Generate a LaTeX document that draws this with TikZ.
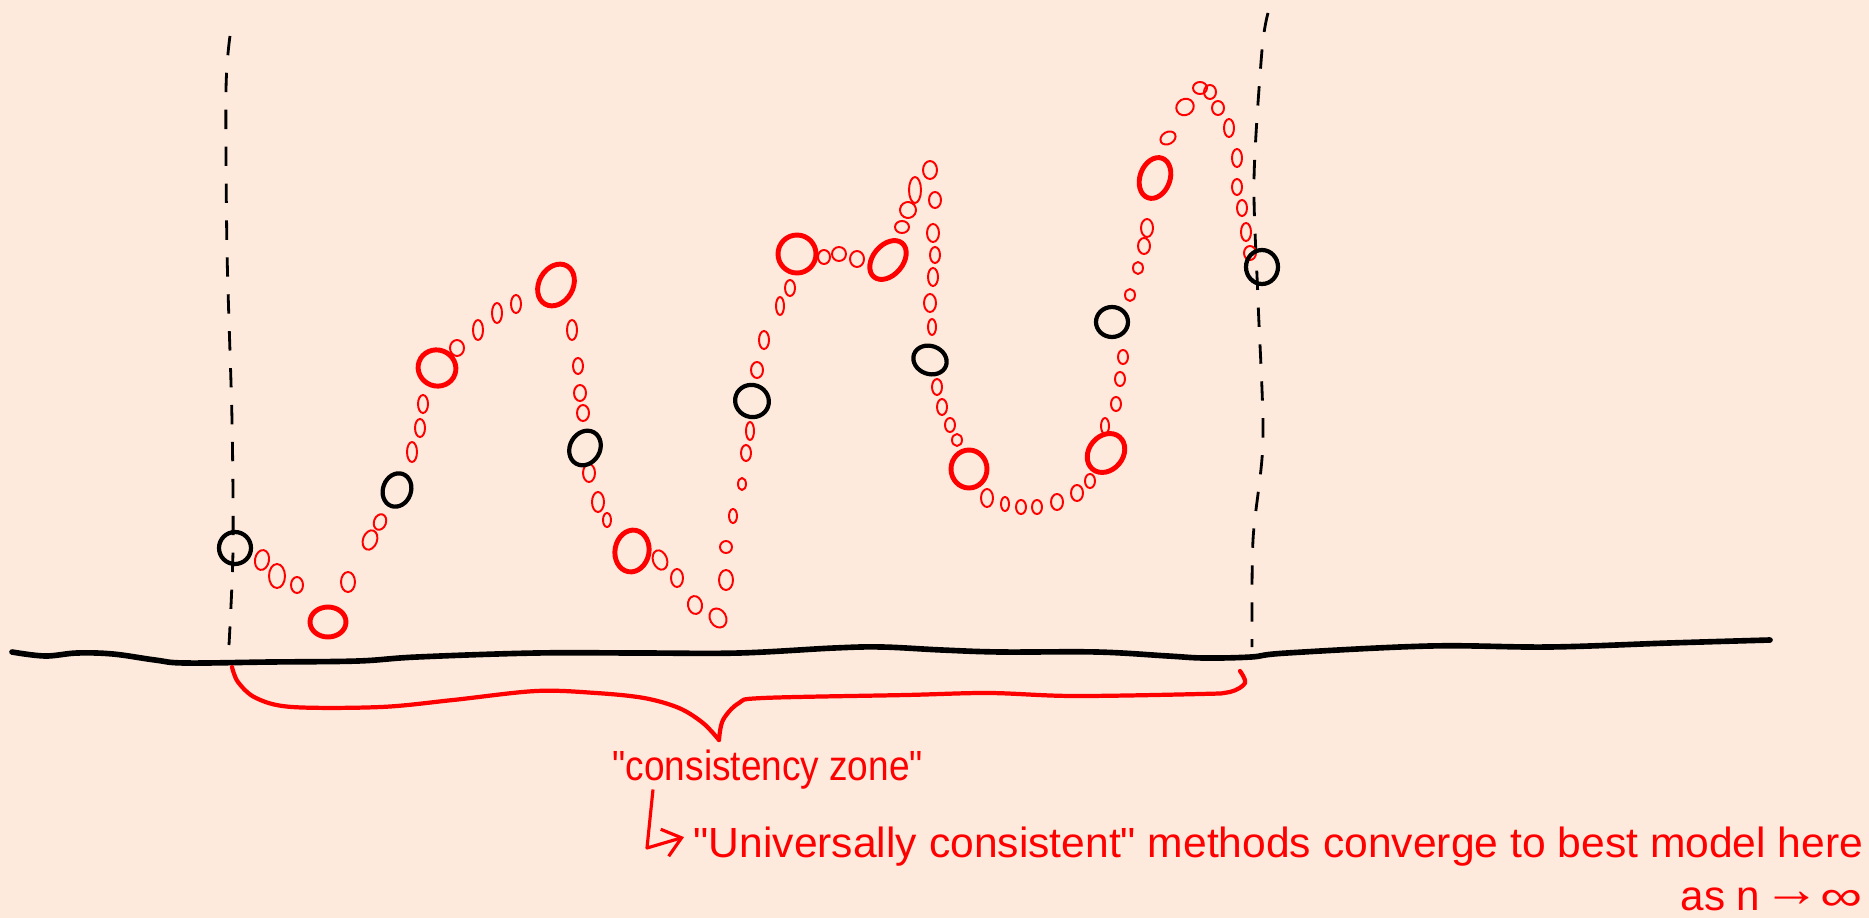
\documentclass[tikz,border=0pt]{standalone}
\usepackage{fontspec}
\setmainfont{Liberation Sans}[Ligatures=TeXOff]
\usetikzlibrary{arrows.meta,calc}
\definecolor{paper}{RGB}{253,234,220}
\definecolor{ink}{RGB}{255,0,0}
\begin{document}
\begin{tikzpicture}[x=0.01cm,y=-0.01cm,
  bigdot/.style={draw=ink,line width=1.4pt},
  blackdot/.style={draw=black,line width=1.2pt},
  smalldot/.style={draw=ink,line width=0.55pt},
  guide/.style={draw=black,line width=0.8pt,dash pattern=on 5.5pt off 5pt},
  ground/.style={draw=black,line width=1.6pt,line cap=round,line join=round},
  bracepen/.style={draw=ink,line width=1.2pt,line cap=round,line join=round},
  note/.style={text=ink,inner sep=0pt,anchor=base west,font=\fontsize{12}{14}\selectfont},
]
% paper
\fill[paper] (0,0) rectangle (1869,918);
\useasboundingbox (0,0) rectangle (1869,918);

% vertical dashed guides bounding the zone
\draw[guide] plot[smooth] coordinates {(230,36) (226,90) (227,250) (232,420) (233,550) (229,645)};
\draw[guide] plot[smooth] coordinates {(1268,13) (1262,50) (1254,180) (1258,300) (1263,440) (1253,540) (1252,647)};

% axis line
\draw[ground] plot[smooth,tension=0.6] coordinates {(12,652) (45,656) (77,653) (113,654) (155,660) (185,663) (270,662) (358,661) (417,657) (536,653) (640,653) (739,653) (834,648) (882,647) (942,650) (1001,652) (1097,652) (1168,656) (1204,658) (1251,657) (1287,653) (1430,646) (1549,647) (1669,643) (1770,640)};

% small samples along the curve
\foreach \x/\y/\a/\b/\r in {
  262/560/7/10/-10, 277/576/8/12/0, 297/585/6/8/0, 348/582/7/10/0,
  370/540/7/10/-20, 380/522/6/8/-20,
  412/452/5/10/0, 420/428/5/9/0, 423/404/5/9/0,
  457/348/7/8/0, 478/330/5/10/0, 497/313/5/10/0, 516/304/5/9/0,
  572/330/5/10/0, 578/366/5/8/0, 580/393/6/8/0, 583/413/6/8/0,
  589/473/6/9/0, 598/502/6/10/0, 607/520/4/7/0,
  660/560/7/10/20, 677/578/6/9/0, 695/605/7/9/10, 718/618/8/10/30,
  726/580/7/10/0, 726/547/6/6/0, 733/516/4/7/0, 742/484/4/6/0, 746/453/5/8/0, 750/431/4/9/0,
  757/370/6/8/0, 764/340/5/9/0, 780/306/4/9/0, 790/288/5/8/0,
  824/257/6/7/0, 839/254/7/7/0, 857/259/7/8/0,
  902/227/7/6/0, 908/210/8/8/-30, 915/190/6/13/0, 930/170/7/9/0,
  935/200/6/8/0, 933/233/6/9/0, 935/255/5/8/0, 933/277/5/9/0, 930/303/6/9/0, 932/327/4/8/0,
  937/387/5/8/0, 942/407/5/8/0, 950/425/5/7/0, 957/440/5/6/0,
  987/498/6/9/0, 1005/504/4/7/0, 1021/507/5/7/0, 1037/507/5/7/0, 1057/502/6/8/0, 1077/493/6/8/0, 1090/481/5/7/0,
  1105/426/4/8/0, 1116/404/5/7/0, 1120/379/5/7/0, 1123/357/5/7/0,
  1130/295/5/6/0, 1138/268/5/6/0, 1144/246/6/8/0, 1147/228/6/9/0,
  1168/138/8/6/30, 1185/107/9/8/30, 1200/88/7/6/0, 1210/92/6/7/0, 1218/108/6/7/0,
  1229/128/5/9/0, 1237/158/5/9/0, 1237/187/5/8/0, 1242/208/5/8/0, 1246/232/5/9/0, 1250/253/6/7/0}
  \draw[smalldot,shift={(\x,\y)},rotate=\r] (0,0) ellipse [x radius=\a*0.01cm, y radius=\b*0.01cm];

% large red samples
\foreach \x/\y/\a/\b/\r in {
  328/622/18/15/0, 437/368/19/18/-20, 556/285/17/22/-30, 632/551/17/21/-10,
  797/254/19/19/0, 888/260/15/22/-40, 1155/178/15/21/-20, 969/469/18/19/0, 1106/453/17/21/-40}
  \draw[bigdot,shift={(\x,\y)},rotate=\r] (0,0) ellipse [x radius=\a*0.01cm, y radius=\b*0.01cm];

% black samples
\foreach \x/\y/\a/\b/\r in {
  235/548/16/16/0, 397/490/14/17/-20, 585/448/15/18/-30, 752/401/17/16/-20,
  930/360/17/14/-20, 1112/322/16/15/0, 1262/267/16/17/0}
  \draw[blackdot,shift={(\x,\y)},rotate=\r] (0,0) ellipse [x radius=\a*0.01cm, y radius=\b*0.01cm];

% curly brace under the zone
\draw[bracepen] plot[smooth,tension=0.55] coordinates {(232,667) (238,682) (256,698) (292,707) (381,707) (453,700) (536,691) (596,693) (644,698) (679,708) (703,723) (719,740)};
\draw[bracepen] plot[smooth,tension=0.55] coordinates {(719,740) (723,720) (739,703) (763,698) (906,695) (989,693) (1073,696) (1200,694) (1230,692) (1245,683) (1240,671)};

% labels
\node[note] (cz) at (612,780) {\resizebox{3.10cm}{\height}{"consistency zone"}};
\node[note] (uc) at (693,857) {\resizebox{11.69cm}{\height}{"Universally consistent" methods converge to best model here}};
\node[note] (asn) at (1680,910) {as n\kern1pt\raisebox{0.08em}{\scalebox{1.35}[1.2]{→}}\scalebox{1.4}[1]{∞}};

% hooked arrow from the first label to the second
\coordinate (hookBend) at (647,848);
\draw[ink,line width=0.9pt,line join=round,-{Straight Barb[length=5pt,width=8pt]}]
  ($(cz.south west)+(41,0)$) -- (hookBend) -- ($(uc.west)+(-9,-9)$);
\end{tikzpicture}
\end{document}
